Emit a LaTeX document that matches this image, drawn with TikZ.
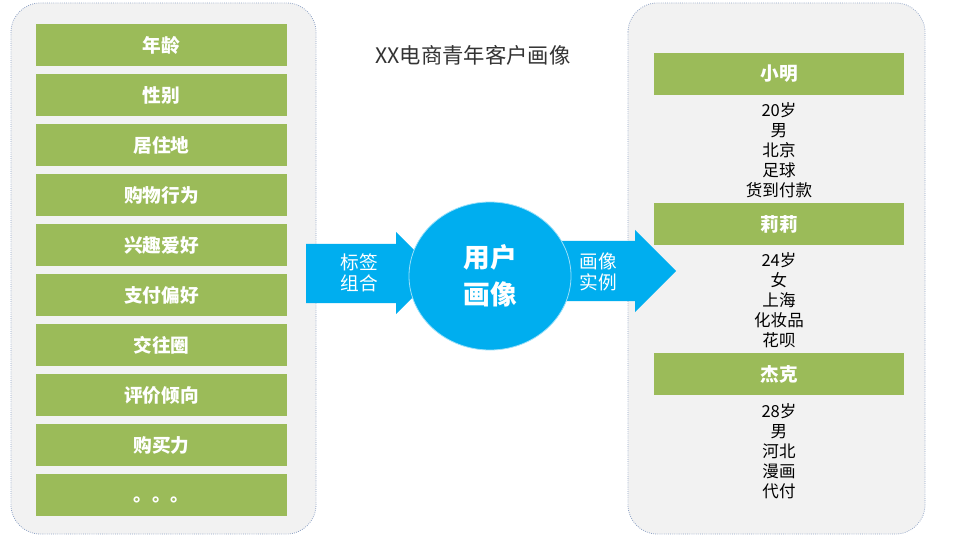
\documentclass[tikz,border=0pt]{standalone}
\usepackage{fontspec}
\setmainfont{Noto Sans CJK SC}
\usetikzlibrary{shapes.geometric}
\definecolor{ggreen}{HTML}{9BBB59}
\definecolor{cblue}{HTML}{00AEEF}
\definecolor{panelgray}{HTML}{F2F2F2}
\definecolor{bordercol}{HTML}{8FA3C6}
\definecolor{titlegray}{HTML}{333333}
\begin{document}
\begin{tikzpicture}[x=0.75pt,y=-0.75pt,
  panel/.style={fill=panelgray, draw=bordercol, densely dotted, line width=0.6pt, rounded corners=22pt},
  gbox/.style={fill=ggreen, text=white, inner sep=0pt, minimum height=31.5pt, font=\bfseries\fontsize{14}{16}\selectfont},
  lbox/.style={gbox, minimum width=188.25pt},
  rbox/.style={gbox, minimum width=187.5pt},
  info/.style={align=center, inner sep=0pt, text=black, font=\fontsize{12.4}{15}\selectfont},
  arrowtext/.style={align=center, inner sep=0pt, text=white, font=\fontsize{14}{15.75}\selectfont},
  bigarrow/.style={fill=cblue}
]
\useasboundingbox (0,0) rectangle (970,538);
\fill[white] (0,0) rectangle (970,538);
% panels
\draw[panel] (11,3) rectangle (316,534);
\draw[panel] (628,3) rectangle (925,534);
% left tag boxes
\foreach \t [count=\i from 0] in {年龄,性别,居住地,购物行为,兴趣爱好,支付偏好,交往圈,评价倾向,购买力}{
  \node[lbox] (t\i) at (161.5,{45+50*\i}) {\t};
}
\node[lbox] (t9) at (161.5,495) {\smash{\raisebox{-5pt}{。。。}}};
% right headers
\node[rbox] (h1) at (779,74) {小明};
\node[rbox] (h2) at (779,224) {莉莉};
\node[rbox] (h3) at (779,374) {杰克};
\node[info] (i1) at (779,150) {20岁\\男\\北京\\足球\\货到付款};
\node[info] (i2) at (779,300) {24岁\\女\\上海\\化妆品\\花呗};
\node[info] (i3) at (779,451) {28岁\\男\\河北\\漫画\\代付};
% title
\node[text=titlegray, inner sep=0pt, font=\fontsize{16}{18}\selectfont] (title) at (473,55) {XX电商青年客户画像};
% arrows
\fill[bigarrow] (306,244) -- (396,244) -- (396,232) -- (437,273) -- (396,314) -- (396,303) -- (306,303) -- cycle;
\fill[bigarrow] (540,241) -- (635,241) -- (635,230) -- (676,271) -- (635,312) -- (635,301) -- (540,301) -- cycle;
% circle
\node[ellipse, fill=cblue, draw=white!60!cblue, line width=0.6pt, inner sep=0pt,
  minimum width=121.5pt, minimum height=111pt, align=center, text=white,
  font=\bfseries\fontsize{20}{27.75}\selectfont] (c) at (490,276) {用户\\画像};
\node[arrowtext] (la) at (359,272.5) {标签\\组合};
\node[arrowtext] (ra) at (598,271.5) {画像\\实例};
\end{tikzpicture}
\end{document}
